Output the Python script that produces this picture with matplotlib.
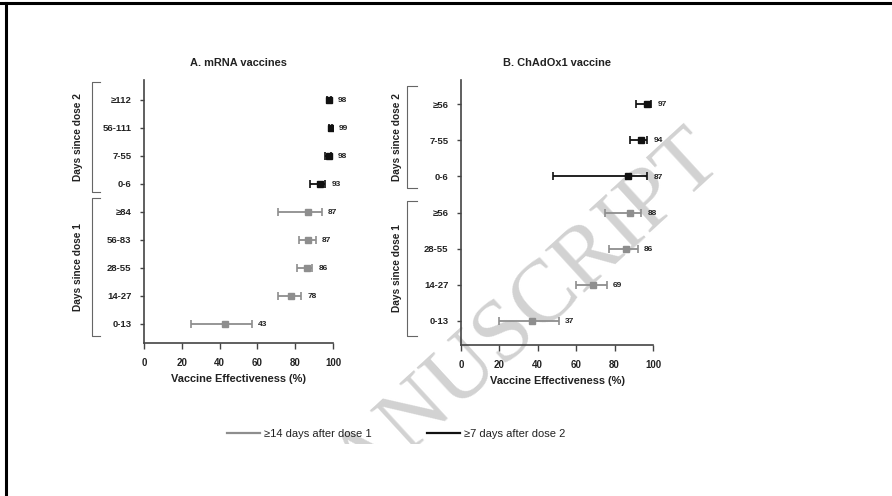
import matplotlib
matplotlib.use("Agg")
import matplotlib.pyplot as plt
from matplotlib.lines import Line2D
from matplotlib.transforms import Bbox, TransformedBbox, blended_transform_factory

plt.rcParams['font.family'] = ['Liberation Sans', 'DejaVu Sans']

# ---- data ----
a_labels = ["≥112", "56-111", "7-55", "0-6", "≥84", "56-83", "28-55", "14-27", "0-13"]
a_dose = [2, 2, 2, 2, 1, 1, 1, 1, 1]
a_ve = [98, 99, 98, 93, 87, 87, 86, 78, 43]
a_lo = [97, 98, 96, 88, 71, 82, 81, 71, 25]
a_hi = [99, 99.5, 99, 96, 94, 91, 89, 83, 57]

b_labels = ["≥56", "7-55", "0-6", "≥56", "28-55", "14-27", "0-13"]
b_dose = [2, 2, 2, 1, 1, 1, 1]
b_ve = [97, 94, 87, 88, 86, 69, 37]
b_lo = [91, 88, 48, 75, 77, 60, 20]
b_hi = [99, 97, 97, 94, 92, 76, 51]

xticks = [0, 20, 40, 60, 80, 100]
legend_labels = ["≥14 days after dose 1", "≥7 days after dose 2"]

GRAY = "#8e8e8e"
BLACK = "#111111"
SPINE = "#444444"
TXT = "#222222"

W, H = 892, 496
fig = plt.figure(figsize=(W / 100, H / 100), dpi=100)


def px(x0, y0, x1, y1):
    return [x0 / W, 1 - y1 / H, (x1 - x0) / W, (y1 - y0) / H]


def panel(rect, title, labels, dose, ve, lo, hi, ylim, br2, br1, brx, labx):
    ax = fig.add_axes(rect)
    ax.patch.set_alpha(0)
    n = len(labels)
    ys = list(range(n))
    for y, d, v, l, h in zip(ys, dose, ve, lo, hi):
        c = BLACK if d == 2 else GRAY
        ax.errorbar([v], [y], xerr=[[v - l], [h - v]], fmt='s', color=c,
                    ms=4, lw=1.3, capsize=2.6, capthick=1.2, elinewidth=1.3)
        ax.annotate(f"{v}", xy=(h, y), xytext=(4.5, -0.5), textcoords='offset points',
                    ha='left', va='center', fontsize=6, fontweight='bold', color=TXT)
    ax.set_xlim(0, 100)
    ax.set_ylim(*ylim)
    ax.set_xticks(xticks)
    ax.set_yticks(ys)
    ax.set_yticklabels(labels)
    for s in ['top', 'right']:
        ax.spines[s].set_visible(False)
    for s in ['left', 'bottom']:
        ax.spines[s].set_color(SPINE)
        ax.spines[s].set_linewidth(1.2)
    ax.tick_params(axis='y', length=3, width=1.0, color=SPINE, labelsize=6.8,
                   labelcolor=TXT, pad=6)
    ax.tick_params(axis='x', length=4, width=1.0, color=SPINE, labelsize=7,
                   labelcolor=TXT, pad=7)
    for t in ax.get_xticklabels() + ax.get_yticklabels():
        t.set_fontweight('bold')
    ax.set_xlabel("Vaccine Effectiveness (%)", fontsize=7.9, fontweight='bold',
                  color=TXT, labelpad=4)
    ax.set_title(title, fontsize=7.9, fontweight='bold', color=TXT, pad=10)
    tr = blended_transform_factory(ax.transAxes, ax.transData)
    for (y0, y1), txt in [(br2, "Days since dose 2"), (br1, "Days since dose 1")]:
        ax.add_line(Line2D([brx[1], brx[0], brx[0], brx[1]], [y0, y0, y1, y1],
                           transform=tr, color="#666666", lw=0.8, clip_on=False))
        ax.text(labx, (y0 + y1) / 2, txt, transform=tr, rotation=90, ha='center',
                va='center', fontsize=7.3, fontweight='bold', color=TXT)
    return ax


axA = panel(px(144, 80, 333, 343), "A. mRNA vaccines", a_labels, a_dose, a_ve, a_lo, a_hi,
            (8.68, -0.71), (-0.64, 3.29), (3.5, 8.43), (-0.275, -0.233), -0.349)
axB = panel(px(461, 80, 653, 345), "B. ChAdOx1 vaccine", b_labels, b_dose, b_ve, b_lo, b_hi,
            (6.67, -0.67), (-0.5, 2.33), (2.67, 6.42), (-0.281, -0.229), -0.333)

handles = [Line2D([], [], color=GRAY, lw=1.6), Line2D([], [], color=BLACK, lw=1.6)]
fig.legend(handles, legend_labels, loc='center', bbox_to_anchor=(396 / W, 1 - 434 / H),
           ncol=2, frameon=False, fontsize=8, handlelength=3.0, handletextpad=0.3,
           columnspacing=5.0, labelcolor=TXT)

# watermark
wm = fig.text(528 / W, 1 - 314 / H, "ANUSCRIPT", rotation=42.5, rotation_mode='anchor',
              ha='center', va='center', fontsize=64, family='Liberation Serif',
              color="#d2d2d2", zorder=-1)
wm.set_clip_box(TransformedBbox(Bbox([[0, 52 / H], [1, 1]]), fig.transFigure))
wm.set_clip_on(True)

# page frame lines
fig.add_artist(Line2D([0, 1], [1 - 3 / H, 1 - 3 / H], transform=fig.transFigure,
                      color='black', lw=2.2))
fig.add_artist(Line2D([5.5 / W, 5.5 / W], [0, 1 - 3 / H], transform=fig.transFigure,
                      color='black', lw=2.2))

fig.savefig("out.png", dpi=100)
